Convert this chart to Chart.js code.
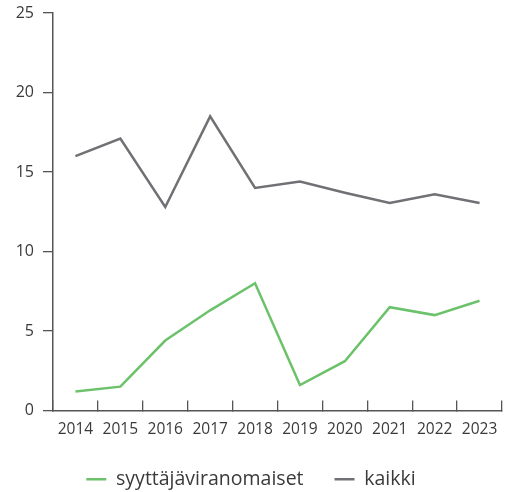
<!DOCTYPE html>
<html>
<head>
<meta charset="utf-8">
<script src="https://cdn.jsdelivr.net/npm/chart.js@4/dist/chart.umd.min.js"></script>
<style>
  html, body { margin: 0; padding: 0; background: #fff; }
  #wrap { width: 508px; height: 492px; }
</style>
</head>
<body>
<div id="wrap"><canvas id="myChart" width="508" height="492"></canvas></div>
<script>
// data
const years = ["2014", "2015", "2016", "2017", "2018", "2019", "2020", "2021", "2022", "2023"];
const syyttajat = [1.2, 1.5, 4.4, 6.3, 8.0, 1.6, 3.1, 6.5, 6.0, 6.9];
const kaikki = [16.0, 17.1, 12.8, 18.5, 14.0, 14.4, 13.7, 13.05, 13.6, 13.05];
const yTicks = [0, 5, 10, 15, 20, 25];

const green = "#6cc26a";
const grey = "#707075";
const axisColor = "#555";
const textColor = "#3a3a3a";
const fontFamily = "'Open Sans', Lato, sans-serif";

const ctx = document.querySelector("#myChart").getContext("2d");

const lineChart = {
  type: "line",
  data: {
    labels: years,
    datasets: [
      {
        label: "syyttäjäviranomaiset",
        data: syyttajat,
        borderColor: green,
        backgroundColor: green,
        borderWidth: 2.5,
      },
      {
        label: "kaikki",
        data: kaikki,
        borderColor: grey,
        backgroundColor: grey,
        borderWidth: 2.5,
      },
    ],
  },
  options: {
    responsive: false,
    animation: false,
    elements: {
      line: { tension: 0 },
      point: { radius: 0, hoverRadius: 0 },
    },
    layout: {
      padding: { top: 13, right: 6, left: 0, bottom: -7 },
    },
    scales: {
      x: {
        offset: true,
        // fixed height + no extra side padding so the axis runs to the right edge
        afterFit: (scale) => {
          scale.height = 28;
          scale.paddingLeft = 0;
          scale.paddingRight = 0;
        },
        grid: {
          offset: true,
          drawOnChartArea: false,
          tickLength: -10,
          color: axisColor,
          lineWidth: 1.3,
        },
        border: { color: axisColor, width: 1.5 },
        ticks: {
          padding: 20,
          color: textColor,
          font: { family: fontFamily, size: 15.5 },
          maxRotation: 0,
        },
      },
      y: {
        min: 0,
        max: 25,
        afterBuildTicks: (scale) => {
          scale.ticks = yTicks.map((v) => ({ value: v }));
        },
        afterFit: (scale) => {
          scale.width = 53;
          scale.paddingTop = 0;
        },
        grid: {
          drawOnChartArea: false,
          tickLength: 10,
          color: axisColor,
          lineWidth: 1.3,
        },
        border: { color: axisColor, width: 1.5 },
        ticks: {
          padding: 9,
          color: textColor,
          font: { family: fontFamily, size: 16 },
        },
      },
    },
    plugins: {
      tooltip: { enabled: false },
      legend: {
        position: "bottom",
        labels: {
          usePointStyle: true,
          pointStyle: "line",
          pointStyleWidth: 20,
          padding: 31,
          color: textColor,
          font: { family: fontFamily, size: 19.5 },
        },
      },
    },
  },
};

new Chart(ctx, lineChart);
</script>
</body>
</html>
